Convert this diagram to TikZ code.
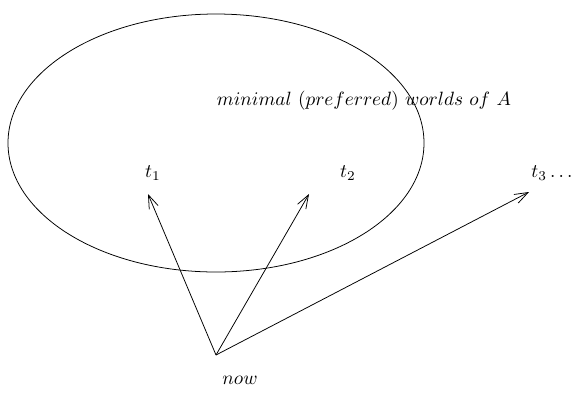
\documentclass[tikz,border=0pt]{standalone}
\usetikzlibrary{arrows.meta}
\tikzset{
  vec/.style={-{Straight Barb[length=7pt,width=5pt]}, line width=0.4pt},
}
\begin{document}
\begin{tikzpicture}[x=0.52pt, y=-0.52pt]
			\useasboundingbox (0,0) rectangle (577,403);

			% the set of minimal worlds
			\draw (216,143) ellipse [x radius=208, y radius=129];
			\node (lbl) at (364,101) {$minimal\ (preferred)\ worlds\ of\ A$};

			% Define nodes with their coordinates
			\node (t1) at (153,173) {$t_1$};
			\node (t2) at (348,173) {$t_2$};
			\node (t3) at (552,173) {$t_3\ldots$};
			\node (now) at (240,380) {$now$};

			\coordinate (o) at (216,355);
			\coordinate (e1) at (148,194);
			\coordinate (e2) at (309,194);
			\coordinate (e3) at (529,192);

			% Draw arrows
			\draw[vec] (o) -- (e1);
			\draw[vec] (o) -- (e2);
			\draw[vec] (o) -- (e3);

		\end{tikzpicture}
\end{document}
